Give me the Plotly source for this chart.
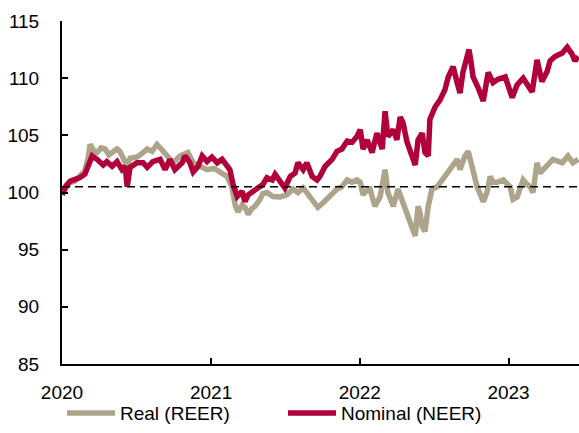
import plotly.graph_objects as go

# Nominal effective exchange rate (index)
neer_dates = [
    "2020-01-01", "2020-01-11", "2020-01-21", "2020-02-02", "2020-02-14", "2020-02-26",
    "2020-03-05", "2020-03-15", "2020-03-27", "2020-04-11", "2020-04-20", "2020-05-03",
    "2020-05-15", "2020-05-27", "2020-06-04", "2020-06-09", "2020-06-16", "2020-07-03",
    "2020-07-18", "2020-07-28", "2020-08-11", "2020-08-29", "2020-09-10", "2020-09-22",
    "2020-10-04", "2020-10-22", "2020-10-29", "2020-11-10", "2020-11-18", "2020-11-30",
    "2020-12-10", "2020-12-22", "2021-01-03", "2021-01-16", "2021-01-28", "2021-02-09",
    "2021-02-16", "2021-02-24", "2021-03-06", "2021-03-18", "2021-03-25", "2021-04-02",
    "2021-04-14", "2021-04-26", "2021-05-08", "2021-05-18", "2021-05-31", "2021-06-07",
    "2021-06-19", "2021-07-01", "2021-07-14", "2021-07-26", "2021-08-02", "2021-08-15",
    "2021-08-24", "2021-09-06", "2021-09-18", "2021-09-25", "2021-10-08", "2021-10-25",
    "2021-11-06", "2021-11-18", "2021-12-01", "2021-12-13", "2021-12-25", "2022-01-02",
    "2022-01-09", "2022-01-19", "2022-01-31", "2022-02-12", "2022-02-25", "2022-03-04",
    "2022-03-11", "2022-03-24", "2022-04-02", "2022-04-10", "2022-04-17", "2022-04-27",
    "2022-05-09", "2022-05-17", "2022-05-24", "2022-06-03", "2022-06-10", "2022-06-18",
    "2022-06-22", "2022-07-05", "2022-07-17", "2022-07-29", "2022-08-06", "2022-08-18",
    "2022-08-28", "2022-09-04", "2022-09-11", "2022-09-21", "2022-09-26", "2022-10-01",
    "2022-10-06", "2022-10-18", "2022-10-31", "2022-11-12", "2022-11-24", "2022-12-06",
    "2022-12-24", "2023-01-10", "2023-01-22", "2023-02-06", "2023-02-18", "2023-02-28",
    "2023-03-12", "2023-03-24", "2023-04-06", "2023-04-13", "2023-04-25", "2023-05-13",
    "2023-05-25", "2023-06-06", "2023-06-13", "2023-06-21",
]
neer_values = [
    99.8, 100.6, 101.0, 101.1, 101.3, 101.6,
    102.4, 103.2, 102.9, 102.4, 102.7, 102.3,
    102.7, 102.0, 102.3, 100.5, 102.2, 102.6,
    102.6, 102.2, 102.7, 102.9, 102.0, 102.9,
    102.0, 102.6, 103.2, 102.6, 101.8, 102.3,
    103.2, 102.7, 103.1, 102.6, 102.9, 102.4,
    102.0, 100.7, 99.65, 100.1, 99.2, 99.8,
    100.1, 100.4, 100.7, 101.3, 101.1, 101.6,
    100.9, 100.4, 101.4, 101.7, 102.6, 102.0,
    102.6, 101.4, 101.1, 101.4, 102.3, 102.9,
    103.6, 103.8, 104.5, 104.4, 104.9, 105.5,
    103.8, 104.6, 103.5, 105.2, 103.8, 107.1,
    104.9, 105.5, 104.6, 106.6, 106.1, 104.4,
    103.2, 102.4, 104.6, 105.2, 103.5, 103.2,
    106.4, 107.5, 108.1, 109.0, 110.1, 111.0,
    109.6, 108.7, 110.5, 111.6, 112.5, 111.4,
    110.1, 109.2, 108.0, 110.5, 109.6, 109.9,
    110.1, 108.3, 109.4, 110.0, 109.4, 108.8,
    111.6, 109.7, 110.6, 111.5, 111.9, 112.2,
    112.7, 112.1, 111.5, 111.9,
]

# Real effective exchange rate (index)
reer_dates = [
    "2020-01-01", "2020-01-11", "2020-01-21", "2020-02-02", "2020-02-14", "2020-02-26",
    "2020-03-05", "2020-03-10", "2020-03-20", "2020-03-27", "2020-04-06", "2020-04-16",
    "2020-04-25", "2020-05-05", "2020-05-15", "2020-05-22", "2020-06-01", "2020-06-09",
    "2020-06-16", "2020-07-03", "2020-07-15", "2020-07-28", "2020-08-09", "2020-08-21",
    "2020-09-03", "2020-09-15", "2020-09-30", "2020-10-17", "2020-11-05", "2020-11-18",
    "2020-12-05", "2020-12-22", "2021-01-08", "2021-01-23", "2021-02-09", "2021-02-21",
    "2021-03-01", "2021-03-08", "2021-03-18", "2021-03-25", "2021-04-02", "2021-04-11",
    "2021-04-19", "2021-05-01", "2021-05-08", "2021-05-18", "2021-06-02", "2021-06-19",
    "2021-07-06", "2021-07-21", "2021-08-02", "2021-08-15", "2021-08-27", "2021-09-08",
    "2021-09-20", "2021-10-03", "2021-10-20", "2021-11-06", "2021-11-18", "2021-12-01",
    "2021-12-13", "2021-12-25", "2022-01-02", "2022-01-09", "2022-01-19", "2022-01-26",
    "2022-02-07", "2022-02-20", "2022-03-04", "2022-03-11", "2022-03-24", "2022-04-05",
    "2022-04-17", "2022-04-29", "2022-05-12", "2022-05-17", "2022-05-24", "2022-05-29",
    "2022-06-03", "2022-06-10", "2022-06-18", "2022-06-27", "2022-07-10", "2022-07-22",
    "2022-08-03", "2022-08-15", "2022-08-28", "2022-09-04", "2022-09-16", "2022-09-24",
    "2022-10-04", "2022-10-16", "2022-10-31", "2022-11-09", "2022-11-17", "2022-11-24",
    "2022-12-04", "2022-12-19", "2023-01-05", "2023-01-12", "2023-01-22", "2023-01-29",
    "2023-02-06", "2023-02-16", "2023-02-23", "2023-03-02", "2023-03-12", "2023-03-19",
    "2023-04-06", "2023-04-20", "2023-05-13", "2023-05-27", "2023-06-08", "2023-06-21",
]
reer_values = [
    99.9, 100.5, 100.9, 101.0, 101.4, 101.9,
    103.0, 104.2, 103.6, 103.5, 103.9, 103.8,
    103.3, 103.5, 103.8, 103.6, 103.0, 102.3,
    103.0, 103.1, 103.4, 103.8, 103.6, 104.2,
    103.7, 103.2, 102.6, 103.2, 103.5, 102.6,
    102.3, 102.0, 102.1, 101.8, 101.4, 100.5,
    98.9, 98.3, 98.9, 98.7, 98.1, 98.6,
    98.8, 99.4, 99.9, 100.0, 99.65, 99.6,
    99.8, 100.3, 100.0, 100.4, 99.8, 99.1,
    98.7, 99.1, 99.65, 100.3, 100.5, 101.1,
    100.9, 101.1, 100.9, 99.8, 100.2, 100.3,
    98.8, 99.65, 102.0, 100.0, 98.8, 100.3,
    99.1, 97.9, 96.8, 96.2, 98.8, 98.2,
    97.0, 96.6, 98.8, 100.3, 100.5, 101.1,
    101.7, 102.3, 102.9, 102.0, 103.2, 103.6,
    102.3, 100.5, 99.2, 100.0, 101.4, 100.9,
    100.9, 101.1, 100.5, 99.4, 99.6, 100.3,
    101.1, 100.7, 100.5, 100.0, 102.6, 101.7,
    102.3, 102.9, 102.6, 103.2, 102.6, 102.9,
]

reference_level = 100.5
y_ticks = [85, 90, 95, 100, 105, 110, 115]

REAL_COLOR = "#ADA48B"
NOMINAL_COLOR = "#B1003A"
FONT = "Liberation Sans, Arial, sans-serif"

fig = go.Figure()
fig.add_trace(go.Scatter(
    x=reer_dates, y=reer_values, mode="lines", name="Real (REER)",
    line=dict(color=REAL_COLOR, width=5.5),
))
fig.add_trace(go.Scatter(
    x=neer_dates, y=neer_values, mode="lines", name="Nominal (NEER)",
    line=dict(color=NOMINAL_COLOR, width=5.5),
))
fig.add_hline(y=reference_level, line=dict(color="black", width=1.5, dash="8px,5px"))

fig.update_layout(
    width=579, height=433,
    margin=dict(l=62, r=0, t=21, b=69),
    paper_bgcolor="white", plot_bgcolor="white",
    font=dict(family=FONT, size=19, color="black"),
    showlegend=True,
    legend=dict(
        orientation="h", x=0.0, xanchor="left", y=-0.143, yanchor="middle",
        font=dict(size=19), itemwidth=48, entrywidth=158,
        bgcolor="rgba(0,0,0,0)",
    ),
)
fig.update_xaxes(
    type="date", range=["2020-01-01", "2023-06-23"],
    tick0="2020-01-01", dtick="M12", tickformat="%Y",
    ticks="inside", ticklen=6, tickwidth=2, tickcolor="black",
    showline=True, linecolor="black", linewidth=2,
    showgrid=False, zeroline=False, ticklabelstandoff=10,
)
fig.update_yaxes(
    range=[85, 115], tickvals=y_ticks,
    ticks="inside", ticklen=6, tickwidth=2, tickcolor="black",
    showline=True, linecolor="black", linewidth=2,
    showgrid=False, zeroline=False, ticklabelstandoff=17,
)

fig.write_html("out.html")
